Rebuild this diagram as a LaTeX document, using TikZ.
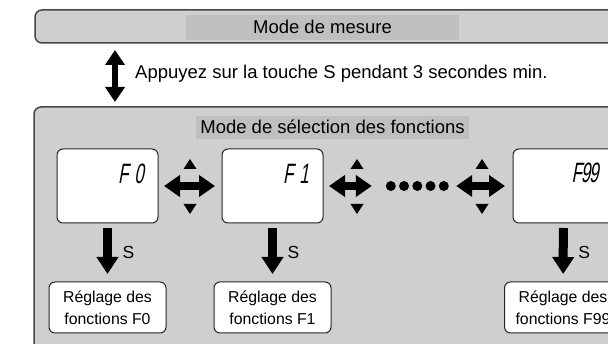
\documentclass[tikz,border=0pt]{standalone}
\usepackage{fontspec}
\setmainfont{Liberation Sans}
\newfontfamily\lcdfont[FakeStretch=0.6,FakeSlant=0.18]{Liberation Sans}
\usetikzlibrary{arrows.meta,calc}

\tikzset{
  panel/.style={draw=black!72, line width=1.5pt, fill=gray!38,
    rounded corners=7pt, outer sep=0pt, anchor=north west},
  paneltitle/.style={fill=gray!50, inner sep=0pt, text height=13.5pt,
    text depth=1.5pt, font=\fontsize{18.5}{22}\selectfont},
  display/.style={draw=black!85, line width=1pt, fill=white,
    rounded corners=6pt, minimum width=101pt, minimum height=74pt,
    outer sep=0pt},
  lcd/.style={inner sep=0pt, text height=20pt, text depth=0pt,
    font=\lcdfont\fontsize{28}{28}\selectfont},
  setting/.style={draw=black!85, line width=1pt, fill=white,
    rounded corners=6pt, minimum width=117pt, minimum height=51pt,
    align=center, inner sep=0pt, outer sep=0pt,
    font=\fontsize{15.8}{22}\selectfont},
  keylabel/.style={font=\fontsize{17.5}{20}\selectfont, inner sep=0pt},
  downarrow/.style={line width=9pt, -{Triangle[width=21pt,length=17pt]},
    shorten <=5pt, shorten >=8pt},
  hdarrow/.style={line width=8pt,
    {Triangle[width=21pt,length=16pt]}-{Triangle[width=21pt,length=16pt]}},
  vdarrow/.style={line width=6pt,
    {Triangle[width=19pt,length=15pt]}-{Triangle[width=19pt,length=15pt]}},
}

\begin{document}
\begin{tikzpicture}[x=1pt, y=-1pt, font=\fontsize{18.5}{22}\selectfont]
\useasboundingbox (0,0) rectangle (608,344);
\clip (0,0) rectangle (608,344);

% measuring mode panel
\node[panel, minimum width=609pt, minimum height=33pt] (measure) at (35,10) {};
\node[paneltitle, minimum width=273pt, minimum height=25pt] (measuretitle)
  at (322.5,27.5) {Mode de mesure};

% switching between the two modes
\node[panel, minimum width=609pt, minimum height=260pt] (select) at (34,107) {};
\draw[vdarrow, shorten <=7pt, shorten >=5pt]
  ([xshift=80pt]measure.south west) -- ([xshift=81pt]select.north west);
\node[anchor=base west, inner sep=0pt] (hint) at (135,78.5)
  {Appuyez sur la touche S pendant 3 secondes min.};

% function selection mode panel
\node[paneltitle, minimum width=273pt, minimum height=23pt] (selecttitle)
  at (332.5,127.5) {Mode de sélection des fonctions};

% displays
\node[display] (d0) at (107.5,186) {};
\node[display] (d1) at (272.5,186) {};
\node[display] (d99) at (563.5,186) {};
\node[lcd] (t0) at (131,174) {F\hspace{6pt}0};
\node[lcd] (t1) at (296,174) {F\hspace{6pt}1};
\node[lcd] (t99) at (585,173) {F\hspace{-1pt}9\hspace{-1pt}9};

% dotted gap between F1 and F99
\node[minimum width=63pt, minimum height=10pt, inner sep=0pt] (dots) at (417.5,186) {};
\foreach \i in {0,...,4}
  \fill ($(dots.west)+(5+13.25*\i,0)$) circle (5pt);

% left/right navigation arrows
\draw[hdarrow, shorten <=6pt, shorten >=7pt] (d0) -- (d1);
\draw[hdarrow, shorten <=6pt, shorten >=14pt] (d1) -- (dots);
\draw[hdarrow, shorten <=7pt, shorten >=8pt] (dots) -- (d99);

% up/down keys
\foreach \x in {190,357,482} {
  \fill (\x-6.5,169) -- (\x+6.5,169) -- (\x,159) -- cycle;
  \fill (\x-6.5,204) -- (\x+6.5,204) -- (\x,214) -- cycle;
}

% setting boxes
\node[setting] (r0) at (107.5,307.5) {Réglage des\\fonctions F0};
\node[setting] (r1) at (272.5,307.5) {Réglage des\\fonctions F1};
\node[setting] (r99) at (563,307.5) {Réglage des\\fonctions F99};

% S key arrows
\foreach \a/\b in {d0/r0,d1/r1,d99/r99} {
  \draw[downarrow] (\a) -- (\b);
  \path (\a.south) -- (\b.north) node[keylabel, pos=0.5, xshift=21pt] {S};
}
\end{tikzpicture}
\end{document}
